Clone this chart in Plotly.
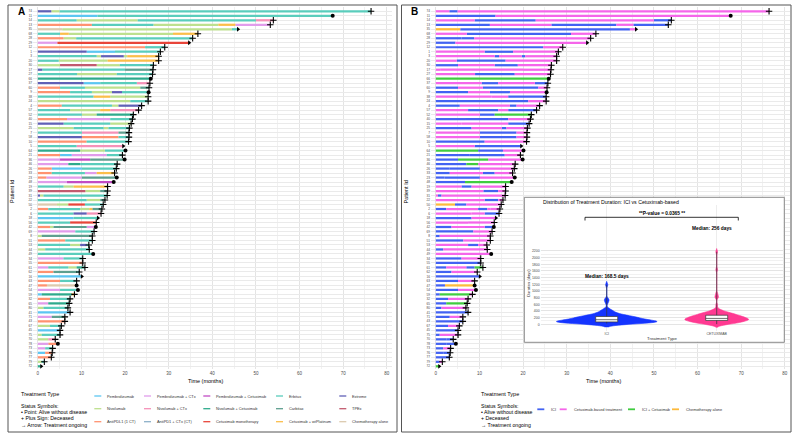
import plotly.graph_objects as go

W, H = 796, 438
def fx(p): return p / W
def fy(p): return 1 - p / H

# ---------------- data ----------------
CAT_CODES = ["P", "N", "A1", "PC", "NC", "AP", "PX", "NX", "CM", "E", "C", "CP", "X", "T", "CH"]
CAT_NAMES = ["Pembrolizumab", "Nivolumab", "AntiPDL1 (1 CT)",
             "Pembrolizumab + CTx", "Nivolumab + CTx", "AntiPD1 + CTx (CT)",
             "Pembrolizumab + Cetuximab", "Nivolumab + Cetuximab", "Cetuximab monotherapy",
             "Erbitux", "Carbitax", "Cetuximab + wtPlatinum",
             "Extreme", "TPEx", "Chemotherapy alone"]
CAT_COLORS = ["#5CC6F2", "#BDE08E", "#FF9270",
              "#E19CEB", "#F591B8", "#8DB0C9",
              "#C24CC4", "#2EAA8C", "#E8453A",
              "#5ACDBC", "#5E9F8F", "#FBBE4A",
              "#6060B6", "#C25A6E", "#DCCAAE"]

GROUP_NAMES = ["ICI", "Cetuximab-based treatment", "ICI + Cetuximab", "Chemotherapy alone"]
GROUP_COLORS = ["#4262F2", "#F566EA", "#40CC40", "#FDBA3C"]
GROUP_OF = {"P": 0, "N": 0, "A1": 0, "PC": 0, "NC": 0, "AP": 0,
            "E": 1, "C": 1, "CP": 1, "X": 1, "T": 1, "CM": 1,
            "PX": 2, "NX": 2, "CH": 3}

PATIENT_IDS = [74, 11, 14, 13, 35, 68, 28, 29, 12, 1, 3, 20, 30, 17, 27, 66, 37, 60, 9, 38,
               24, 4, 57, 52, 40, 15, 25, 7, 58, 10, 5, 64, 21, 36, 46, 26, 33, 23, 48, 19,
               39, 31, 22, 50, 2, 6, 18, 56, 42, 69, 8, 51, 53, 44, 49, 34, 55, 61, 62, 16,
               63, 47, 54, 59, 32, 65, 80, 41, 71, 43, 67, 45, 75, 70, 78, 73, 76, 77, 79, 72]

# status: D = deceased (+), A = alive without disease (point), O = treatment ongoing (arrow)
STATUS = ["D", "A", "D", "D", "O", "D", "D", "O", "D", "D",
          "D", "D", "D", "D", "D", "A", "D", "D", "A", "D",
          "D", "D", "D", "D", "D", "D", "D", "D", "D", "D",
          "O", "A", "D", "A", "D", "D", "D", "A", "A", "D",
          "D", "D", "D", "D", "D", "D", "O", "D", "A", "D",
          "D", "D", "D", "D", "A", "D", "D", "D", "D", "O",
          "D", "A", "A", "D", "D", "D", "D", "D", "D", "D",
          "D", "D", "D", "D", "A", "D", "D", "D", "D", "O"]

# treatment lines per patient: (treatment code, end time in months); each starts where the previous ended
SEGMENTS = [
    [("X", 3.1), ("N", 5.0), ("E", 76.4)],
    [("P", 13.7), ("E", 67.6)],
    [("E", 8.9), ("N", 22.9), ("E", 50.0), ("NC", 54.0)],
    [("A1", 12.4), ("E", 26.5), ("N", 41.4), ("CP", 45.3), ("PC", 53.3)],
    [("CH", 5.6), ("N", 44.5), ("E", 45.9)],
    [("E", 5.1), ("CP", 7.1), ("N", 31.0), ("CP", 36.7)],
    [("A1", 5.9), ("N", 8.8), ("E", 35.5)],
    [("PC", 4.5), ("CM", 34.7)],
    [("A1", 24.6), ("E", 29.1)],
    [("X", 11.2), ("P", 17.7), ("E", 28.1)],
    [("E", 13.5), ("N", 14.5), ("X", 19.7), ("N", 20.5), ("CP", 27.7)],
    [("E", 4.8), ("N", 16.0), ("CP", 27.7)],
    [("N", 5.1), ("T", 13.5), ("N", 18.8), ("E", 26.5)],
    [("X", 1.0), ("E", 20.0), ("C", 26.4)],
    [("E", 9.0), ("N", 18.1), ("E", 26.3)],
    [("NX", 25.9)],
    [("X", 10.5), ("P", 14.3), ("E", 22.7), ("NC", 25.7)],
    [("A1", 5.1), ("E", 10.8), ("N", 23.5), ("C", 25.5)],
    [("A1", 7.4), ("E", 12.4), ("N", 17.0), ("X", 19.3), ("E", 25.4)],
    [("E", 12.8), ("CP", 16.6), ("N", 25.3)],
    [("N", 21.2), ("E", 25.3)],
    [("A1", 5.5), ("E", 17.0), ("N", 18.5), ("X", 23.8)],
    [("E", 7.4), ("N", 14.3), ("CP", 16.6), ("NC", 23.1)],
    [("E", 10.1), ("N", 13.5), ("NX", 21.9)],
    [("A1", 6.7), ("PC", 16.6), ("E", 21.7)],
    [("X", 5.9), ("E", 16.6), ("N", 21.4)],
    [("N", 8.2), ("E", 15.1), ("N", 16.2), ("E", 21.0)],
    [("E", 10.1), ("NC", 18.5), ("C", 20.9)],
    [("X", 10.1), ("A1", 18.5), ("E", 20.9)],
    [("A1", 11.2), ("E", 20.8)],
    [("E", 8.9), ("NC", 19.6)],
    [("NX", 9.7), ("N", 15.4), ("E", 20.1)],
    [("A1", 5.1), ("P", 7.8), ("PC", 15.8), ("E", 19.4)],
    [("PC", 5.1), ("PX", 12.0), ("C", 19.9)],
    [("PC", 7.0), ("NX", 9.7), ("E", 18.2)],
    [("A1", 3.2), ("P", 10.1), ("E", 18.0)],
    [("A1", 3.2), ("E", 10.8), ("PC", 13.5), ("CP", 17.6)],
    [("A1", 2.0), ("PC", 10.1), ("C", 18.1)],
    [("PC", 6.7), ("PX", 17.4)],
    [("E", 5.9), ("N", 8.2), ("CP", 15.8), ("E", 16.0)],
    [("T", 10.9), ("N", 14.3), ("C", 16.0)],
    [("X", 0.5), ("N", 1.3), ("E", 15.9)],
    [("E", 11.2), ("N", 14.3), ("C", 15.4)],
    [("CH", 4.4), ("N", 7.0), ("CM", 10.8), ("E", 15.0)],
    [("A1", 2.4), ("E", 9.7), ("N", 11.8), ("CP", 12.5), ("C", 14.7)],
    [("E", 8.2), ("X", 11.2), ("NC", 14.5)],
    [("P", 8.2), ("E", 13.8)],
    [("E", 7.4), ("CM", 13.4)],
    [("A1", 2.8), ("N", 3.6), ("C", 11.2), ("PC", 13.3)],
    [("PC", 8.6), ("E", 12.9)],
    [("N", 0.9), ("C", 12.5)],
    [("A1", 6.3), ("E", 12.5)],
    [("E", 7.4), ("N", 9.7), ("X", 11.2), ("E", 11.7)],
    [("N", 1.7), ("E", 11.8)],
    [("E", 12.7)],
    [("PC", 5.9), ("E", 10.3)],
    [("A1", 10.3)],
    [("PC", 2.4), ("E", 7.0), ("N", 8.9), ("NX", 10.8)],
    [("A1", 3.6), ("C", 9.0), ("E", 9.5)],
    [("P", 10.1)],
    [("A1", 5.1), ("E", 8.9)],
    [("A1", 2.1), ("CH", 8.9)],
    [("PC", 5.1), ("E", 9.2)],
    [("P", 0.9), ("NX", 7.8), ("CP", 8.4)],
    [("A1", 2.8), ("E", 7.4)],
    [("PC", 2.4), ("NX", 7.2)],
    [("N", 1.3), ("E", 6.9)],
    [("P", 7.4)],
    [("PC", 3.2), ("C", 6.2)],
    [("A1", 6.2)],
    [("N", 2.8), ("E", 5.4)],
    [("P", 5.1)],
    [("N", 0.9), ("E", 5.1)],
    [("N", 2.4), ("NC", 4.0)],
    [("PC", 2.4), ("A1", 4.6)],
    [("PC", 1.7), ("E", 3.4)],
    [("P", 1.7), ("A1", 3.3)],
    [("A1", 3.1)],
    [("N", 0.9), ("E", 1.5)],
    [("NX", 0.8)],
]

X_TICKS = [0, 10, 20, 30, 40, 50, 60, 70, 80]
VIOLIN_Y_TICKS = [0, 200, 400, 600, 800, 1000, 1200, 1400, 1600, 1800, 2000, 2200]
VIOLIN_CATS = ["ICI", "CETUXIMAB"]
DAYS_PER_MONTH = 30.4375

# ---------------- flatten ----------------
flat = []  # (row, start, dur, code)
for i, segs in enumerate(SEGMENTS):
    start = 0.0
    for code, end in segs:
        flat.append((i + 1, start, end - start, code))
        start = end
end_times = [segs[-1][1] for segs in SEGMENTS]
rows = list(range(1, len(SEGMENTS) + 1))

fig = go.Figure()
BAR_W = 0.5

# Panel A bars
for code, name, col in zip(CAT_CODES, CAT_NAMES, CAT_COLORS):
    sel = [f for f in flat if f[3] == code]
    if not sel:
        continue
    fig.add_trace(go.Bar(orientation="h", y=[s[0] for s in sel], x=[s[2] for s in sel],
                         base=[s[1] for s in sel], width=BAR_W, marker=dict(color=col, line=dict(width=0)),
                         name=name, showlegend=False, xaxis="x", yaxis="y", hoverinfo="skip"))

# Panel B bars
for g, (name, col) in enumerate(zip(GROUP_NAMES, GROUP_COLORS)):
    sel = [f for f in flat if GROUP_OF[f[3]] == g]
    fig.add_trace(go.Bar(orientation="h", y=[s[0] for s in sel], x=[s[2] for s in sel],
                         base=[s[1] for s in sel], width=BAR_W, marker=dict(color=col, line=dict(width=0)),
                         name=name, showlegend=False, xaxis="x2", yaxis="y2", hoverinfo="skip"))

# status markers
SYMS = {"D": ("cross-thin", 4.6, 1.1), "A": ("circle", 4.0, 0), "O": ("triangle-right", 4.2, 0)}
for ax, ay in (("x", "y"), ("x2", "y2")):
    for st, (sym, size, lw) in SYMS.items():
        idx = [k for k in range(len(rows)) if STATUS[k] == st]
        fig.add_trace(go.Scatter(x=[end_times[k] for k in idx], y=[rows[k] for k in idx], mode="markers",
                                 marker=dict(symbol=sym, size=size, color="black",
                                             line=dict(width=lw, color="black")),
                                 showlegend=False, xaxis=ax, yaxis=ay, hoverinfo="skip"))

# inset background subplot (dummy)
fig.add_trace(go.Scatter(x=[None], y=[None], xaxis="x3", yaxis="y3", showlegend=False, hoverinfo="skip"))

# inset violins from durations of treatment lines
ici_days = [f[2] * DAYS_PER_MONTH for f in flat if GROUP_OF[f[3]] == 0]
cet_days = [f[2] * DAYS_PER_MONTH for f in flat if GROUP_OF[f[3]] == 1]
for pos, vals, col, wd in ((0, ici_days, "#1434FF", 0.91), (1, cet_days, "#FF3A92", 0.58)):
    fig.add_trace(go.Violin(x=[pos] * len(vals), y=vals, width=wd, fillcolor=col,
                            line=dict(color=col, width=0.6), points=False, box_visible=False,
                            meanline_visible=False, scalemode="width", spanmode="soft",
                            showlegend=False, xaxis="x4", yaxis="y4", hoverinfo="skip"))
for pos, vals in ((0, ici_days), (1, cet_days)):
    fig.add_trace(go.Box(x=[pos] * len(vals), y=vals, width=0.2, fillcolor="white",
                         line=dict(color="#333333", width=0.7), boxpoints=False, whiskerwidth=0,
                         showlegend=False, xaxis="x4", yaxis="y4", hoverinfo="skip"))

# ---------------- axes ----------------
TF = "Liberation Sans, Arial, sans-serif"
grid_major = "#E4E4E4"
grid_minor = "#F1F1F1"
xcommon = dict(range=[-1.1, 81.2], tickvals=X_TICKS, tickfont=dict(size=4.5, color="#4D4D4D"),
               showgrid=True, gridcolor=grid_major, gridwidth=0.6, zeroline=False, showline=False,
               ticks="", minor=dict(tickvals=[5, 15, 25, 35, 45, 55, 65, 75], showgrid=True,
                                    gridcolor=grid_minor, gridwidth=0.4))
ycommon = dict(range=[80.6, 0.043], tickvals=rows, ticktext=[str(p) for p in PATIENT_IDS],
               tickfont=dict(size=3.2, color="#4D4D4D"), showgrid=True, gridcolor="#EAEAEA",
               gridwidth=0.5, zeroline=False, showline=False, ticks="")
fig.update_layout(
    xaxis=dict(domain=[fx(33), fx(392)], anchor="y", **xcommon),
    yaxis=dict(domain=[fy(369), fy(7)], anchor="x", **ycommon),
    xaxis2=dict(domain=[fx(431), fx(790)], anchor="y2", **xcommon),
    yaxis2=dict(domain=[fy(369), fy(7)], anchor="x2", **ycommon),
    xaxis3=dict(domain=[fx(524.8), fx(783.8)], anchor="y3", range=[0, 1], showgrid=False,
                zeroline=False, showticklabels=False, showline=False, ticks=""),
    yaxis3=dict(domain=[fy(341.8), fy(197.8)], anchor="x3", range=[0, 1], showgrid=False,
                zeroline=False, showticklabels=False, showline=False, ticks=""),
    xaxis4=dict(domain=[fx(540.7), fx(782.7)], anchor="y4", range=[-0.6, 1.6], tickvals=[0, 1],
                ticktext=VIOLIN_CATS, tickfont=dict(size=3.5, color="#4D4D4D"), showgrid=True,
                gridcolor="#EDEDED", gridwidth=0.5, zeroline=False, showline=False, ticks=""),
    yaxis4=dict(domain=[fy(330.5), fy(205)], anchor="x4", range=[-186, 3580],
                tickvals=VIOLIN_Y_TICKS, tickfont=dict(size=3.5, color="#4D4D4D"), showgrid=True,
                gridcolor=grid_major, gridwidth=0.5, zeroline=False, showline=False, ticks="",
                minor=dict(tickvals=[100, 300, 500, 700, 900, 1100, 1300, 1500, 1700, 1900, 2100],
                           showgrid=True, gridcolor=grid_minor, gridwidth=0.4)),
    barmode="overlay", violinmode="overlay", boxmode="overlay",
    width=W, height=H, margin=dict(l=0, r=0, t=0, b=0),
    paper_bgcolor="white", plot_bgcolor="white", showlegend=False,
    font=dict(family=TF, color="black"),
)

# ---------------- annotations & shapes ----------------
ann = []
shapes = []
def text(x, y, s, size, xanchor="left", bold=False, color="black", angle=0, yanchor="middle"):
    ann.append(dict(x=fx(x), y=fy(y), xref="paper", yref="paper", text=("<b>%s</b>" % s) if bold else s,
                    showarrow=False, xanchor=xanchor, yanchor=yanchor, textangle=angle,
                    font=dict(size=size, color=color, family=TF)))
def line(x0, y0, x1, y1, color, width):
    shapes.append(dict(type="line", xref="paper", yref="paper", x0=fx(x0), y0=fy(y0), x1=fx(x1), y1=fy(y1),
                       line=dict(color=color, width=width), layer="above"))

# panel frames
for x0, x1 in ((8, 397), (401.5, 791)):
    shapes.append(dict(type="rect", xref="paper", yref="paper", x0=fx(x0), x1=fx(x1), y0=fy(432), y1=fy(5),
                       line=dict(color="#555555", width=1), fillcolor="rgba(0,0,0,0)", layer="above"))
text(21, 11, "A", 10, "center", bold=True)
text(414, 11, "B", 10, "center", bold=True)

# axis titles
for xc, xl in ((205.5, 12), (603.7, 405.5)):
    text(xc, 380.5, "Time (months)", 5.5, "center")
    text(xl, 192, "Patient Id", 5.5, "center", angle=-90)

# Panel A legend
text(19, 394.3, "Treatment Type", 5.5)
for k, s in enumerate(["Status Symbols:", "• Point: Alive without disease",
                       "+ Plus Sign: Deceased", "→ Arrow: Treatment ongoing"]):
    text(19, 405.6 + k * 6.3, s, 5.2)
col_key_x = [94.3, 144, 203.3, 276, 339.3]
row_key_y = [396, 408.7, 421.7]
for i, (name, col) in enumerate(zip(CAT_NAMES, CAT_COLORS)):
    c, r = i // 3, i % 3
    kx, ky = col_key_x[c], row_key_y[r]
    line(kx, ky, kx + 7, ky, col, 1.3)
    text(kx + 11, ky, name, 3.9, color="#333333")

# Panel B legend
text(479, 394.3, "Treatment Type", 5.5)
for k, s in enumerate(["Status Symbols:", "• Alive without disease", "+ Deceased", "→ Treatment ongoing"]):
    text(479, 405.8 + k * 6.3, s, 5.2)
for name, col, kx in zip(GROUP_NAMES, GROUP_COLORS, [537.3, 559.7, 628, 672]):
    line(kx, 409.3, kx + 7, 409.3, col, 1.8)
    text(kx + 12, 409.3, name, 3.9, color="#333333")

# inset decorations
shapes.append(dict(type="rect", xref="paper", yref="paper", x0=fx(524.3), x1=fx(784.3), y0=fy(342.3),
                   y1=fy(197.3), line=dict(color="#8A8A8A", width=1), fillcolor="rgba(0,0,0,0)", layer="above"))
text(540.7, 202, "Distribution of Treatment Duration: ICI vs Cetuximab-based", 5.2)
line(585, 217.3, 738.3, 217.3, "black", 0.8)
line(585, 217.3, 585, 220.5, "black", 0.8)
line(738.3, 217.3, 738.3, 220.5, "black", 0.8)
text(662, 213.6, "**P-value = 0.0365 **", 4.8, "center", bold=True)
text(711.7, 228.3, "Median: 256 days", 4.8, "center", bold=True)
text(606.7, 276.3, "Median: 168.5 days", 4.8, "center", bold=True)
text(528.5, 283.3, "Duration (days)", 4.0, "center", angle=-90, color="#333333")
text(661.7, 338, "Treatment Type", 4.3, "center", color="#333333")

fig.update_layout(annotations=ann, shapes=shapes)
fig.write_html("out.html")
